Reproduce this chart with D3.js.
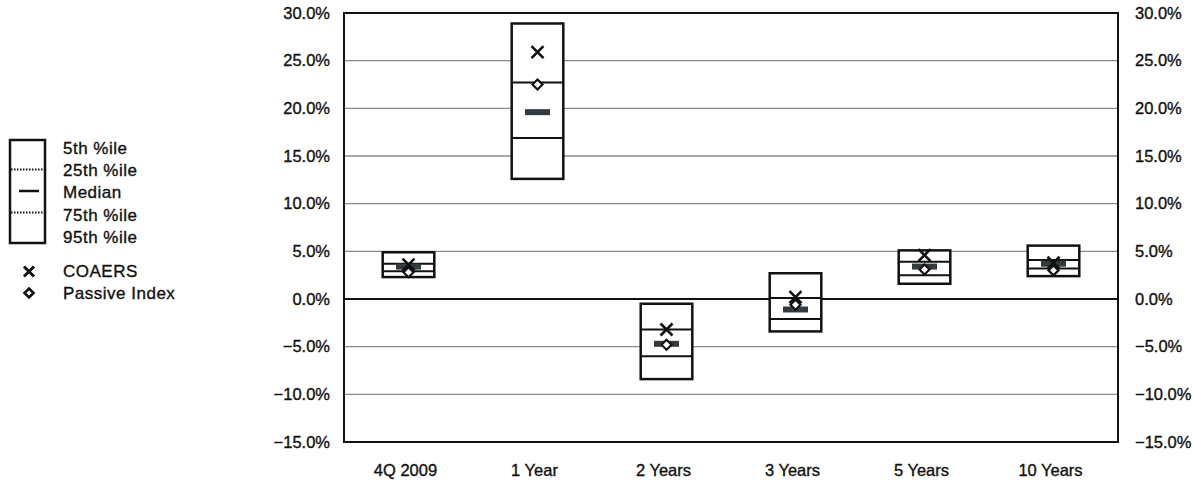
<!DOCTYPE html>
<html>
<head>
<meta charset="utf-8">
<script src="https://cdn.jsdelivr.net/npm/d3@7"></script>
<style>
  body { margin: 0; background: #fff; }
  svg text { font-family: "Liberation Sans", Arial, sans-serif; fill: #111; stroke: #111; stroke-width: 0.35px; }
</style>
</head>
<body>
<svg id="chart" width="1193" height="486"></svg>
<script>
const categories = ["4Q 2009", "1 Year", "2 Years", "3 Years", "5 Years", "10 Years"];
const p5     = [4.9, 28.9, -0.5, 2.7, 5.1, 5.6];
const p25    = [3.7, 22.7, -3.2, 0.1, 3.9, 4.1];
const median = [3.4, 19.6, -4.7, -1.1, 3.4, 3.7];
const p75    = [2.9, 16.9, -6.0, -2.1, 2.5, 3.2];
const p95    = [2.3, 12.6, -8.4, -3.4, 1.6, 2.4];
const coaers  = [3.6, 25.9, -3.2, 0.2, 4.6, 3.8];
const passive = [2.8, 22.5, -4.8, -0.6, 3.1, 3.0];
const yTicks = [30, 25, 20, 15, 10, 5, 0, -5, -10, -15];
const legendLabels = ["5th %ile", "25th %ile", "Median", "75th %ile", "95th %ile"];
const markerLabels = ["COAERS", "Passive Index"];

const FS = "16.5px";
const LFS = "17px";
const svg = d3.select("#chart");
const L = 344, R = 1118, T = 13, B = 442;
const x = d3.scaleBand().domain(categories).range([L, R]);
const y = d3.scaleLinear().domain([-15, 30]).range([B, T]);
const fmt = d => d3.format(".1f")(d) + "%";

// gridlines
svg.append("g").selectAll("line").data(yTicks.filter(t => t !== 30 && t !== -15 && t !== 0))
  .join("line")
  .attr("x1", L).attr("x2", R)
  .attr("y1", d => y(d)).attr("y2", d => y(d))
  .attr("stroke", "#8a8a8a").attr("stroke-width", 1.3);

// zero line
svg.append("line").attr("x1", L).attr("x2", R).attr("y1", y(0)).attr("y2", y(0))
  .attr("stroke", "#111").attr("stroke-width", 2);

// axes labels
const leftAxis = d3.axisLeft(y).tickValues(yTicks).tickFormat(fmt).tickSize(0).tickPadding(14);
const gl = svg.append("g").attr("transform", `translate(${L},0)`).call(leftAxis);
const rightAxis = d3.axisRight(y).tickValues(yTicks).tickFormat(fmt).tickSize(0).tickPadding(17);
const gr = svg.append("g").attr("transform", `translate(${R},0)`).call(rightAxis);
const bottomAxis = d3.axisBottom(x).tickSize(0).tickPadding(22);
const gb = svg.append("g").attr("transform", `translate(0,${B})`).call(bottomAxis);
[gl, gr, gb].forEach(g => {
  g.select(".domain").remove();
  g.selectAll("text").style("font-size", FS).style("font-family", "'Liberation Sans', Arial, sans-serif").attr("fill", "#111");
});
gb.selectAll(".tick").attr("transform", d => `translate(${x(d) + x.bandwidth() / 2 - 3},0)`);

// frame
svg.append("rect").attr("x", L).attr("y", T).attr("width", R - L).attr("height", B - T)
  .attr("fill", "none").attr("stroke", "#111").attr("stroke-width", 2);

// boxes
const bw = x.bandwidth() * 0.4;
const boxes = svg.append("g");
categories.forEach((c, i) => {
  const cx = x(c) + x.bandwidth() / 2;
  const g = boxes.append("g");
  g.append("rect").attr("x", cx - bw / 2).attr("y", y(p5[i]))
    .attr("width", bw).attr("height", y(p95[i]) - y(p5[i]))
    .attr("fill", "#fff").attr("stroke", "#111").attr("stroke-width", 2.5);
  [p25[i], p75[i]].forEach(v => {
    g.append("line").attr("x1", cx - bw / 2).attr("x2", cx + bw / 2)
      .attr("y1", y(v)).attr("y2", y(v)).attr("stroke", "#111").attr("stroke-width", 2);
  });
  g.append("rect").attr("x", cx - 12.5).attr("y", y(median[i]) - 3)
    .attr("width", 25).attr("height", 6).attr("fill", "#323c40");
  // COAERS x
  const cy = y(coaers[i]), s = 6;
  g.append("path").attr("d", `M${cx - s},${cy - s}L${cx + s},${cy + s}M${cx - s},${cy + s}L${cx + s},${cy - s}`)
    .attr("stroke", "#111").attr("stroke-width", 2.6);
  // Passive diamond
  const py = y(passive[i]), d = 5;
  g.append("path").attr("d", `M${cx},${py - d}L${cx + d},${py}L${cx},${py + d}L${cx - d},${py}Z`)
    .attr("fill", "#fff").attr("stroke", "#111").attr("stroke-width", 2.2);
});

// legend
const lg = svg.append("g");
lg.append("rect").attr("x", 10).attr("y", 140).attr("width", 35).attr("height", 103)
  .attr("fill", "#fff").attr("stroke", "#111").attr("stroke-width", 2.5);
[169.5, 212.5].forEach(yy => {
  lg.append("line").attr("x1", 11).attr("x2", 44).attr("y1", yy).attr("y2", yy)
    .attr("stroke", "#111").attr("stroke-width", 1.8).attr("stroke-dasharray", "1.5,1.5");
});
lg.append("line").attr("x1", 19).attr("x2", 39).attr("y1", 191).attr("y2", 191)
  .attr("stroke", "#111").attr("stroke-width", 2.5);
const ly = [148.5, 170.5, 192.5, 215, 237.5];
legendLabels.forEach((t, i) => {
  lg.append("text").attr("x", 63).attr("y", ly[i]).attr("dy", "0.35em")
    .style("font-size", LFS).style("letter-spacing", "0.5px").text(t);
});
// marker legend
const mx = 29, m1 = 271.5, m2 = 293;
lg.append("path").attr("d", `M${mx - 5},${m1 - 5}L${mx + 5},${m1 + 5}M${mx - 5},${m1 + 5}L${mx + 5},${m1 - 5}`)
  .attr("stroke", "#111").attr("stroke-width", 3);
lg.append("path").attr("d", `M${mx},${m2 - 4.5}L${mx + 4.5},${m2}L${mx},${m2 + 4.5}L${mx - 4.5},${m2}Z`)
  .attr("fill", "#fff").attr("stroke", "#111").attr("stroke-width", 2.6);
[m1, m2].forEach((yy, i) => {
  lg.append("text").attr("x", 63).attr("y", yy).attr("dy", "0.35em")
    .style("font-size", LFS).style("letter-spacing", "0.5px").text(markerLabels[i]);
});
</script>
</body>
</html>
